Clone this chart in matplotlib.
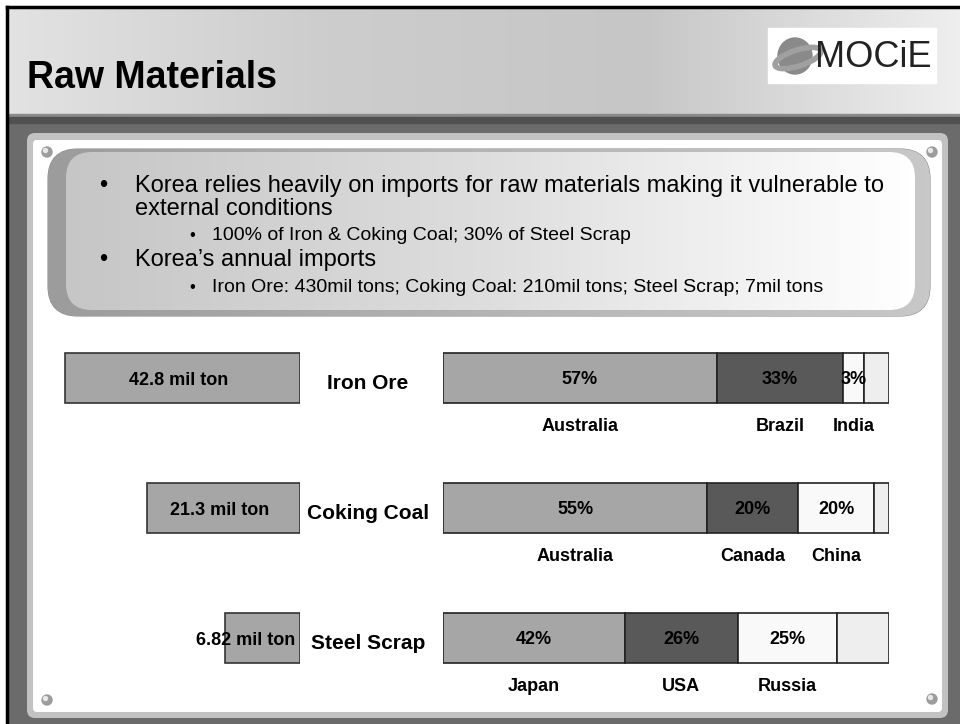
import numpy as np
import matplotlib.pyplot as plt
from matplotlib.patches import Rectangle, FancyBboxPatch, Circle, Ellipse
from matplotlib.colors import LinearSegmentedColormap
from matplotlib.transforms import blended_transform_factory

plt.rcParams['font.family'] = ['Liberation Sans', 'DejaVu Sans']

# --- data ---
materials = ['Iron Ore', 'Coking Coal', 'Steel Scrap']
volume_labels = ['42.8 mil ton', '21.3 mil ton', '6.82 mil ton']
volume_len = [100, 65, 32]          # bar lengths as drawn, relative to the longest

iron_share = [61.4, 28.3, 4.7, 5.6]   # segment widths as drawn (%)
coal_share = [59.3, 20.4, 16.9, 3.4]
scrap_share = [40.7, 25.4, 22.3, 11.6]
iron_pct = ['57%', '33%', '3%', '']
coal_pct = ['55%', '20%', '20%', '']
scrap_pct = ['42%', '26%', '25%', '']
iron_src = ['Australia', 'Brazil', 'India', '']
coal_src = ['Australia', 'Canada', 'China', '']
scrap_src = ['Japan', 'USA', 'Russia', '']

shares = [iron_share, coal_share, scrap_share]
pcts = [iron_pct, coal_pct, scrap_pct]
sources = [iron_src, coal_src, scrap_src]
seg_colors = ['#a6a6a6', '#595959', '#f9f9f9', '#eeeeee']

bullets = [
    (0, 'Korea relies heavily on imports for raw materials making it vulnerable to'),
    (0, 'external conditions'),
    (1, '100% of Iron & Coking Coal; 30% of Steel Scrap'),
    (0, 'Korea\u2019s annual imports'),
    (1, 'Iron Ore: 430mil tons; Coking Coal: 210mil tons; Steel Scrap; 7mil tons'),
]
bullet_base = [192, 215, 240, 266, 292]
bullet_mark = [True, False, True, True, True]

fig = plt.figure(figsize=(9.6, 7.24), dpi=100)
fig.patch.set_facecolor('white')

# --- slide background (pixel coordinates) ---
bg = fig.add_axes([0, 0, 1, 1])


def hgrad(x0, x1, y0, y1, stops, clip=None, z=1):
    cmap = LinearSegmentedColormap.from_list('g', stops)
    im = bg.imshow(np.linspace(0, 1, 256)[None, :], cmap=cmap, aspect='auto',
                   extent=(x0, x1, y1, y0), zorder=z, interpolation='bilinear')
    if clip is not None:
        im.set_clip_path(clip)
    return im


bg.add_patch(Rectangle((7, 115), 953, 609, color='#6b6b6b', zorder=0))
hgrad(7, 960, 7, 115, ['#e2e2e2', '#cdcdcd', '#c6c6c6', '#eeeeee'])
bg.add_patch(Rectangle((7, 114), 953, 3, color='#8a8a8a', zorder=2))
bg.add_patch(Rectangle((7, 117), 953, 6, color='#505050', zorder=2))
bg.plot([7, 7], [7, 724], color='black', lw=2.5, zorder=5)
bg.plot([7, 960], [7, 7], color='black', lw=2.5, zorder=5)

# panel
bg.add_patch(FancyBboxPatch((27, 133), 921, 585, boxstyle='round,pad=0,rounding_size=8',
                            fc='#c2c2c2', ec='none', zorder=2))
bg.add_patch(FancyBboxPatch((33, 140), 909, 572, boxstyle='round,pad=0,rounding_size=4',
                            fc='white', ec='none', zorder=2))
for sx, sy in [(47, 152), (932, 152), (47, 700), (932, 699)]:
    bg.add_patch(Circle((sx, sy), 5, color='#9c9c9c', zorder=3))
    bg.add_patch(Circle((sx - 1.5, sy - 1.5), 2, color='#e8e8e8', zorder=3))

# bullet box
outer = FancyBboxPatch((48, 149), 882, 167, boxstyle='round,pad=0,rounding_size=30',
                       fc='none', ec='#8c8c8c', lw=0.8, zorder=3)
bg.add_patch(outer)
hgrad(48, 930, 149, 316, ['#9c9c9c', '#b4b4b4', '#c8c8c8'], clip=outer, z=3)
inner = FancyBboxPatch((66, 152), 849, 158, boxstyle='round,pad=0,rounding_size=26',
                       fc='none', ec='none', zorder=4)
bg.add_patch(inner)
hgrad(66, 915, 152, 310, ['#c6c6c6', '#dedede', '#ffffff'], clip=inner, z=4)

for (lvl, txt), yb, mark in zip(bullets, bullet_base, bullet_mark):
    if lvl == 0:
        if mark:
            bg.text(103, yb, '\u2022', fontsize=17, ha='center', va='baseline', zorder=6)
        bg.text(135, yb, txt, fontsize=17, ha='left', va='baseline', zorder=6)
    else:
        bg.text(192, yb, '\u2022', fontsize=12, ha='center', va='baseline', zorder=6)
        bg.text(212, yb, txt, fontsize=14, ha='left', va='baseline', zorder=6)

# title and logo
bg.text(27, 88, 'Raw Materials', fontsize=27, fontweight='bold', ha='left',
        va='baseline', color='black', zorder=6)
bg.add_patch(Rectangle((768, 28), 168, 55, color='white', zorder=5))
bg.add_patch(Ellipse((795, 56), 34, 36, color='#8a8a8a', zorder=6))
bg.add_patch(Ellipse((798, 58), 48, 16, angle=-18, fc='none', ec='#a0a0a0', lw=4, zorder=6))
bg.text(873, 67, 'MOCiE', fontsize=26, ha='center', va='baseline', color='#222222', zorder=7)

bg.set_xlim(0, 960)
bg.set_ylim(724, 0)
bg.axis('off')

# --- import volume bars (left) ---
rows = np.arange(len(materials))
axL = fig.add_axes([40 / 960, 1 - 703 / 724, 260 / 960, 390 / 724])
axL.barh(rows, volume_len, height=0.385, color='#a6a6a6', edgecolor='#333333', lw=1.2)
for r, (v, lab) in enumerate(zip(volume_len, volume_labels)):
    if v < 40:
        axL.text(2.2, r + 0.02, lab, ha='right', va='center', fontsize=13, fontweight='bold')
    else:
        axL.text(v / 2 + 1.5, r + 0.02, lab, ha='center', va='center', fontsize=13, fontweight='bold')
axL.set_xlim(110.6, 0)
axL.set_ylim(2.5, -0.5)
axL.axis('off')

# --- source share bars (right) ---
axR = fig.add_axes([443 / 960, 1 - 703 / 724, 446 / 960, 390 / 724])
for r in rows:
    left = 0
    for w, c, p, s in zip(shares[r], seg_colors, pcts[r], sources[r]):
        axR.barh(r, w, left=left, height=0.385, color=c, edgecolor='#222222', lw=1.2)
        if p:
            axR.text(left + w / 2, r + 0.01, p, ha='center', va='center',
                     fontsize=13, fontweight='bold')
        if s:
            axR.text(left + w / 2, r + 0.37, s, ha='center', va='center',
                     fontsize=13, fontweight='bold')
        left += w
axR.set_xlim(0, 100)
axR.set_ylim(2.5, -0.5)
axR.axis('off')

trans = blended_transform_factory(fig.transFigure, axR.transData)
for r, name in enumerate(materials):
    axR.text(368 / 960, r + 0.04, name, transform=trans, ha='center', va='center',
             fontsize=15, fontweight='bold')

fig.savefig('out.png', dpi=100)
